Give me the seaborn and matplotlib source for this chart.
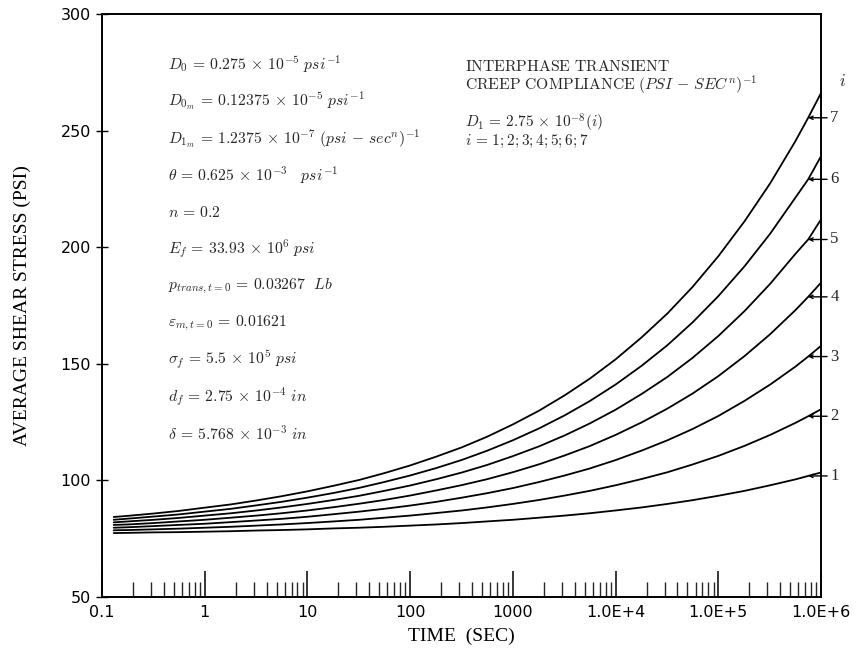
import matplotlib
matplotlib.use("Agg")
import matplotlib.pyplot as plt
from matplotlib.ticker import FixedLocator, LogLocator, NullFormatter
import numpy as np
import pandas as pd
import seaborn as sns

# Time (sec) at which the shear stress was sampled
time_sec = [0.13, 0.18, 0.32, 0.56, 1, 1.8, 3.2, 5.6, 10, 18, 32, 56, 100, 180, 320, 560,
            1e3, 1.8e3, 3.2e3, 5.6e3, 1e4, 1.8e4, 3.2e4, 5.6e4, 1e5, 1.8e5, 3.2e5, 5.6e5,
            7.5e5, 1e6]

# Average interfacial shear stress (psi), one list per compliance index i
stress_1 = [77.4, 77.5, 77.7, 77.8, 78.0, 78.2, 78.5, 78.7, 79.0, 79.4, 79.7, 80.1, 80.6, 81.1, 81.7,
            82.4, 83.1, 84.0, 84.9, 85.9, 87.1, 88.4, 89.9, 91.5, 93.4, 95.5, 97.9, 100.4, 101.9, 103.4]
stress_2 = [78.6, 78.7, 79.0, 79.3, 79.7, 80.1, 80.6, 81.1, 81.7, 82.4, 83.1, 84.0, 84.9, 86.0, 87.1,
            88.4, 89.9, 91.6, 93.5, 95.5, 97.9, 100.6, 103.5, 106.8, 110.5, 114.8, 119.5, 124.6, 127.5, 130.5]
stress_3 = [79.7, 79.9, 80.4, 80.9, 81.4, 82.1, 82.8, 83.5, 84.4, 85.5, 86.6, 87.8, 89.2, 90.8, 92.6,
            94.5, 96.7, 99.3, 102.1, 105.1, 108.7, 112.8, 117.2, 122.0, 127.6, 134.1, 141.1, 148.7, 153.1, 157.7]
stress_4 = [80.9, 81.1, 81.7, 82.4, 83.1, 84.0, 84.9, 85.9, 87.1, 88.5, 90.0, 91.6, 93.5, 95.7, 98.0,
            100.5, 103.5, 106.9, 110.7, 114.7, 119.5, 124.9, 130.8, 137.2, 144.7, 153.3, 162.7, 172.9, 178.7, 184.8]
stress_5 = [82.0, 82.4, 83.1, 83.9, 84.9, 85.9, 87.1, 88.4, 89.9, 91.6, 93.4, 95.5, 97.8, 100.5, 103.4,
            106.6, 110.4, 114.6, 119.3, 124.4, 130.3, 137.1, 144.4, 152.5, 161.9, 172.6, 184.3, 197.0, 203.3, 211.9]
stress_6 = [83.1, 83.6, 84.5, 85.4, 86.6, 87.8, 89.3, 90.8, 92.6, 94.6, 96.8, 99.3, 102.1, 105.3, 108.8,
            112.7, 117.2, 122.3, 127.9, 134.0, 141.1, 149.2, 158.0, 167.7, 179.0, 191.8, 205.8, 221.1, 229.1, 239.0]
stress_7 = [84.3, 84.8, 85.8, 86.9, 88.3, 89.7, 91.4, 93.2, 95.3, 97.7, 100.2, 103.1, 106.4, 110.2, 114.2,
            118.7, 124.0, 129.9, 136.5, 143.6, 151.9, 161.4, 171.6, 182.9, 196.1, 211.1, 227.4, 245.3, 255.5, 266.1]

curve_ids = [1, 2, 3, 4, 5, 6, 7]
label_time = 7.5e5  # where the index pointers touch each curve

x_ticks = [0.1, 1, 10, 100, 1000, 1e4, 1e5, 1e6]
x_tick_labels = ["0.1", "1", "10", "100", "1000", "1.0E+4", "1.0E+5", "1.0E+6"]
y_ticks = [50, 100, 150, 200, 250, 300]

series = [stress_1, stress_2, stress_3, stress_4, stress_5, stress_6, stress_7]
df = pd.concat(
    [pd.DataFrame({"time": time_sec, "stress": s, "curve": i}) for i, s in zip(curve_ids, series)],
    ignore_index=True,
)

sns.set_theme(style="white")
plt.rcParams["mathtext.fontset"] = "cm"
plt.rcParams["font.family"] = ["DejaVu Sans"]

fig = plt.figure(figsize=(8.58, 6.54), dpi=100)
ax = fig.add_axes([0.1189, 0.0872, 0.838, 0.8914])
ax.set_xscale("log")

sns.lineplot(data=df, x="time", y="stress", hue="curve", units="curve", estimator=None,
             palette=["black"] * len(curve_ids), linewidth=1.3, legend=False, ax=ax)

ax.set_xlim(0.1, 1e6)
ax.set_ylim(50, 300)

for sp in ax.spines.values():
    sp.set_color("black")
    sp.set_linewidth(1.4)

# Axis ticks
ax.xaxis.set_major_locator(FixedLocator(x_ticks))
ax.set_xticklabels(x_tick_labels)
ax.xaxis.set_minor_locator(LogLocator(base=10, subs=np.arange(2, 10)))
ax.xaxis.set_minor_formatter(NullFormatter())
ax.tick_params(axis="x", which="major", direction="in", length=19, width=1.1,
               bottom=True, top=False, pad=6, labelsize=11.5, colors="black")
ax.tick_params(axis="x", which="minor", direction="in", length=11, width=1.0,
               bottom=True, top=False)
ax.set_yticks(y_ticks)
ax.tick_params(axis="y", which="major", direction="inout", length=8, width=1.0,
               left=True, right=False, pad=4, labelsize=11.5, colors="black")

serif = ["Liberation Serif", "DejaVu Serif"]
ax.set_xlabel("TIME  (SEC)", family=serif, fontsize=14, labelpad=5, color="black")
ax.set_ylabel("AVERAGE SHEAR STRESS (PSI)", family=serif, fontsize=14, labelpad=21, color="black")

# Material parameters
params = [
    r"$D_0\, =\, 0.275\, \times\, 10^{-5}\ psi^{-1}$",
    r"$D_{0_m}\, =\, 0.12375\, \times\, 10^{-5}\ psi^{-1}$",
    r"$D_{1_m}\, =\, 1.2375\, \times\, 10^{-7}\ (psi\, -\, sec^{n})^{-1}$",
    r"$\theta\, =\, 0.625\, \times\, 10^{-3}\quad psi^{-1}$",
    r"$n\, =\, 0.2$",
    r"$E_f\, =\, 33.93\, \times\, 10^{6}\ psi$",
    r"$p_{trans,t=0}\, =\, 0.03267\ \ Lb$",
    r"$\varepsilon_{m,t=0}\, =\, 0.01621$",
    r"$\sigma_f\, =\, 5.5\, \times\, 10^{5}\ psi$",
    r"$d_f\, =\, 2.75\, \times\, 10^{-4}\ in$",
    r"$\delta\, =\, 5.768\, \times\, 10^{-3}\ in$",
]
param_y = [0.914, 0.851, 0.787, 0.724, 0.660, 0.597, 0.533, 0.470, 0.407, 0.343, 0.280]
for txt, yy in zip(params, param_y):
    ax.text(0.0918, yy, txt, transform=ax.transAxes, fontsize=11.3, va="center", ha="left")

# Compliance description
ax.text(0.505, 0.910, r"$\mathrm{INTERPHASE\ TRANSIENT}$", transform=ax.transAxes,
        fontsize=11.3, va="center", ha="left")
ax.text(0.505, 0.878, r"$\mathrm{CREEP\ COMPLIANCE}\ (PSI\, -\, SEC^{n})^{-1}$", transform=ax.transAxes,
        fontsize=11.3, va="center", ha="left")
ax.text(0.505, 0.813, r"$D_1\, =\, 2.75\, \times\, 10^{-8}(i)$", transform=ax.transAxes,
        fontsize=11, va="center", ha="left")
ax.text(0.505, 0.781, r"$i\, =\, 1;2;3;4;5;6;7$", transform=ax.transAxes,
        fontsize=11, va="center", ha="left")

# Curve index pointers on the right edge
ax.text(1.025, 0.885, r"$i$", transform=ax.transAxes, fontsize=12, va="center", ha="left")
for cid, s in zip(curve_ids, series):
    y_at = s[time_sec.index(label_time)]
    ax.annotate(str(cid), xy=(label_time, y_at), xycoords="data",
                xytext=(1.013, y_at), textcoords=("axes fraction", "data"),
                fontsize=12, family=serif, va="center", ha="left", annotation_clip=False,
                arrowprops=dict(arrowstyle="->", lw=1.0, color="black",
                                shrinkA=0, shrinkB=0, mutation_scale=6))

fig.savefig("out.png", dpi=100, facecolor="white")
